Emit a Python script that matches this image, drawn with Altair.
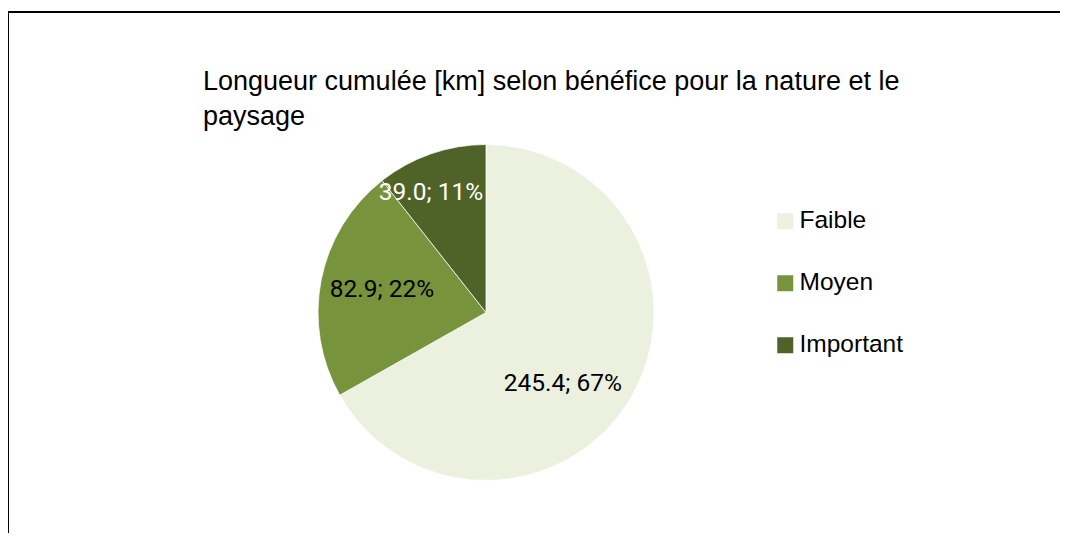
import altair as alt
import pandas as pd

# ---- data ----
categories = ["Faible", "Moyen", "Important"]
longueurs = [245.4, 82.9, 39.0]
pourcentages = [67, 22, 11]
couleurs = ["#EBF1DE", "#77933C", "#4F6228"]

titre = ["Longueur cumulée [km] selon bénéfice pour la nature et le", "paysage"]

df = pd.DataFrame({
    "categorie": categories,
    "longueur": longueurs,
    "pct": pourcentages,
    "ordre": list(range(len(categories))),
})

# layout constants (pie centre / radius inside the chart area)
CX, CY, R = 478, 300.5, 168
W, H = 1052, 521

base = alt.Chart(df)

pie = base.mark_arc(outerRadius=R, stroke="white", strokeWidth=0.75).encode(
    theta=alt.Theta("longueur:Q", stack=True),
    color=alt.Color(
        "categorie:N",
        scale=alt.Scale(domain=categories, range=couleurs),
        legend=alt.Legend(
            orient="none", legendX=765, legendY=197, title=None,
            symbolType="square", symbolSize=256, symbolStrokeWidth=0,
            labelFont="Liberation Sans", labelFontSize=24.5, labelColor="black",
            labelOffset=2, rowPadding=37, padding=0, symbolOffset=0, labelLimit=300,
        ),
    ),
    order=alt.Order("ordre:Q"),
    x=alt.value(CX),
    y=alt.value(CY),
)

lab = base.transform_window(
    cum="sum(longueur)", sort=[alt.SortField("ordre")], frame=[None, 0]
).transform_joinaggregate(
    total="sum(longueur)"
).transform_calculate(
    mid="2*PI*(datum.cum - datum.longueur/2)/datum.total",
    label="format(datum.longueur, '.1f') + '; ' + datum.pct + '%'",
)


def label_layer(cat, r, dx, dy, color):
    return lab.transform_filter(alt.datum.categorie == cat).mark_text(
        radius=r, dx=dx, dy=dy, font="Roboto", fontSize=24.5, color=color,
        align="center", baseline="middle",
    ).encode(
        theta=alt.Theta("mid:Q", scale=None),
        text="label:N",
        x=alt.value(CX),
        y=alt.value(CY),
    )


labels = [
    label_layer("Faible", 104, -13, 19, "black"),
    label_layer("Moyen", 106, 0, -2, "black"),
    label_layer("Important", 131.5, -12, 5, "white"),
]

# chart frame (left and top border; the others lie outside the picture)
frame_left = base.mark_rule(color="black", strokeWidth=2).encode(
    x=alt.value(0), y=alt.value(0), y2=alt.value(H + 20)
)
frame_top = base.mark_rule(color="black", strokeWidth=2).encode(
    x=alt.value(-1), x2=alt.value(W + 20), y=alt.value(0)
)

chart = alt.layer(pie, *labels, frame_left, frame_top).resolve_scale(
    theta="independent"
).properties(
    width=W,
    height=H,
    autosize=alt.AutoSizeParams(type="none"),
    padding={"left": 0, "top": 4, "right": 0, "bottom": 0},
    background="white",
    title=alt.TitleParams(
        text=titre, anchor="start", frame="group", orient="top",
        font="Liberation Sans", fontSize=27, fontWeight="normal", color="black",
        lineHeight=35, dx=195, dy=124, offset=4,
    ),
).configure_view(stroke="transparent", strokeWidth=0, fill="white")

chart.save("out.html", embed_options={"renderer": "svg", "actions": False})
